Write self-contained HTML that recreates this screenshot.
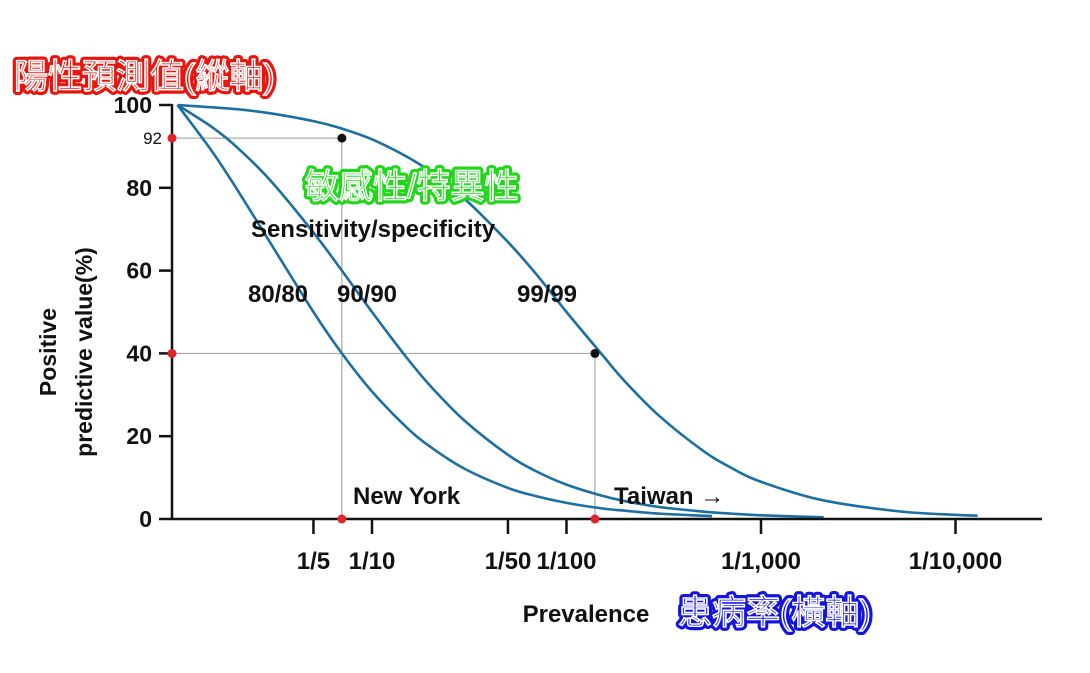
<!DOCTYPE html>
<html><head><meta charset="utf-8"><style>
html,body{margin:0;padding:0;background:#fff;}
svg{display:block;font-family:"Liberation Sans","Noto Sans CJK TC",sans-serif;}
</style></head><body>
<svg id="chart" width="1090" height="673" viewBox="0 0 1090 673" xmlns="http://www.w3.org/2000/svg">
<g id="guides"></g>
<g id="series"></g>
<g id="axes"></g>
<g id="labels">
  <text transform="translate(56,352) rotate(-90)" text-anchor="middle" font-size="23" font-weight="bold" fill="#111">Positive</text>
  <text transform="translate(92,352) rotate(-90)" text-anchor="middle" font-size="23" font-weight="bold" fill="#111">predictive value(%)</text>
  <text x="586" y="622" text-anchor="middle" font-size="24" font-weight="bold" fill="#111">Prevalence</text>
  <text x="373" y="237" text-anchor="middle" font-size="24" font-weight="bold" fill="#111">Sensitivity/specificity</text>
  <text x="278" y="302" text-anchor="middle" font-size="24" font-weight="bold" fill="#111">80/80</text>
  <text x="367" y="302" text-anchor="middle" font-size="24" font-weight="bold" fill="#111">90/90</text>
  <text x="547" y="302" text-anchor="middle" font-size="24" font-weight="bold" fill="#111">99/99</text>
  <text x="353" y="504" font-size="24" font-weight="bold" fill="#111">New York</text>
  <text x="614" y="504" font-size="24" font-weight="bold" fill="#111">Taiwan →</text>
  <g font-size="34">
    <text x="14" y="88" fill="#e8140e" stroke="#e8140e" stroke-width="8" stroke-linejoin="round">陽性預測值(縱軸)</text>
    <text x="14" y="88" fill="#e8140e" stroke="#fff" stroke-width="1.6">陽性預測值(縱軸)</text>
  </g>
  <g font-size="34">
    <text x="305" y="198" fill="#22d61c" stroke="#22d61c" stroke-width="8" stroke-linejoin="round">敏感性/特異性</text>
    <text x="305" y="198" fill="#22d61c" stroke="#fff" stroke-width="1.6">敏感性/特異性</text>
  </g>
  <g font-size="34">
    <text x="678" y="624" fill="#1414e0" stroke="#1414e0" stroke-width="8" stroke-linejoin="round">患病率(橫軸)</text>
    <text x="678" y="624" fill="#1414e0" stroke="#fff" stroke-width="1.6">患病率(橫軸)</text>
  </g>
</g>
</svg>
<script>
const denoms80 = [1, 1.5, 2, 3, 5, 7, 10, 15, 20, 30, 50, 70, 100, 150, 200, 300, 500, 560];
const ppv80 = [100, 88.9, 80, 66.7, 50, 40, 30.8, 22.2, 17.4, 12.1, 7.5, 5.5, 3.9, 2.6, 2.0, 1.3, 0.8, 0.7];
const denoms90 = [1, 1.5, 2, 3, 5, 7, 10, 15, 20, 30, 50, 70, 100, 150, 200, 300, 500, 700, 1000, 2100];
const ppv90 = [100, 94.7, 90, 81.8, 69.2, 60, 50, 39.1, 32.1, 23.7, 15.5, 11.5, 8.3, 5.7, 4.3, 2.9, 1.8, 1.3, 0.9, 0.4];
const denoms99 = [1, 2, 3, 5, 7, 10, 15, 20, 30, 50, 70, 100, 150, 200, 300, 500, 700, 1000, 2000, 5000, 10000, 13000];
const ppv99 = [100, 99, 98, 96.1, 94.3, 91.7, 87.6, 83.9, 77.3, 66.9, 59.1, 50, 40.1, 33.2, 24.9, 16.6, 12.4, 9.0, 4.7, 1.9, 1.0, 0.8];
const yTicks = [0, 20, 40, 60, 80, 100];
const xTickDenoms = [5, 10, 50, 100, 1000, 10000];
const xTickLabels = ["1/5", "1/10", "1/50", "1/100", "1/1,000", "1/10,000"];
const markerDenoms = [7, 140];
const markerPPV = [92, 40];

const NS = "http://www.w3.org/2000/svg";
const X0 = 172, X1 = 1042, Y0 = 519, Y100 = 105;
function xs(d){ return 372 + (Math.log10(d) - 1) * 194.5; }
function ys(v){ return Y0 - (v/100) * (Y0 - Y100); }
function mk(tag, attrs, parent){
  const e = document.createElementNS(NS, tag);
  for (const k in attrs) e.setAttribute(k, attrs[k]);
  parent.appendChild(e); return e;
}
const axes = document.getElementById('axes');
const series = document.getElementById('series');
const guides = document.getElementById('guides');

// axes
const ya = mk('line', {x1:X0, y1:Y100-1, x2:X0, y2:Y0, stroke:'#111', 'stroke-width':2.5}, axes);


const xa = mk('line', {x1:X0-1, y1:Y0, x2:X1, y2:Y0, stroke:'#111', 'stroke-width':2.5}, axes);


yTicks.forEach(v => {
  const t = mk('line', {x1:X0-13, y1:ys(v), x2:X0, y2:ys(v), stroke:'#111', 'stroke-width':2.5}, axes);
  
  
  const l = mk('text', {x:X0-20, y:ys(v)+8, 'text-anchor':'end', 'font-size':23, 'font-weight':'bold', fill:'#111'}, axes);
  l.textContent = v;
  
  
});
xTickDenoms.forEach((d,i) => {
  const x = xs(d);
  const t = mk('line', {x1:x, y1:Y0, x2:x, y2:Y0+15, stroke:'#111', 'stroke-width':2.5}, axes);
  
  
  const l = mk('text', {x:x, y:Y0+50, 'text-anchor':'middle', 'font-size':24, 'font-weight':'bold', fill:'#111'}, axes);
  l.textContent = xTickLabels[i];
  
  
});

// guides and markers
markerDenoms.forEach((d,i) => {
  const x = xs(d), y = ys(markerPPV[i]);
  const h = mk('line', {x1:X0, y1:y, x2:x, y2:y, stroke:'#999', 'stroke-width':1}, guides);
  
  
  const v = mk('line', {x1:x, y1:y, x2:x, y2:Y0, stroke:'#999', 'stroke-width':1}, guides);
  
  
});
const lbl92 = mk('text', {x:X0-10, y:ys(markerPPV[0])+6, 'text-anchor':'end', 'font-size':17, fill:'#111'}, axes);
lbl92.textContent = markerPPV[0];



function pathFrom(ds, vs){
  const pts = ds.map((d,i) => [xs(d), ys(vs[i])]);
  let s = 'M' + pts[0][0] + ',' + pts[0][1];
  for (let i=0;i<pts.length-1;i++){
    const p0 = pts[Math.max(0,i-1)], p1 = pts[i], p2 = pts[i+1], p3 = pts[Math.min(pts.length-1,i+2)];
    const c1 = [p1[0]+(p2[0]-p0[0])/6, p1[1]+(p2[1]-p0[1])/6];
    const c2 = [p2[0]-(p3[0]-p1[0])/6, p2[1]-(p3[1]-p1[1])/6];
    s += ' C' + c1 + ' ' + c2 + ' ' + p2;
  }
  return s;
}
[[denoms80,ppv80,'curve-80-80'],[denoms90,ppv90,'curve-90-90'],[denoms99,ppv99,'curve-99-99']].forEach(s => {
  const p = mk('path', {d:pathFrom(s[0], s[1]), fill:'none', stroke:'#1b6fa3', 'stroke-width':2.6}, series);
  
  
});

markerDenoms.forEach((d,i) => {
  const x = xs(d), y = ys(markerPPV[i]);
  const a = mk('circle', {cx:x, cy:y, r:4.5, fill:'#111'}, axes);
  
  
  const b = mk('circle', {cx:X0, cy:y, r:4.5, fill:'#e0242a'}, axes);
  
  
  const c = mk('circle', {cx:x, cy:Y0, r:4.5, fill:'#e0242a'}, axes);
  
  
});
</script>
</body></html>
